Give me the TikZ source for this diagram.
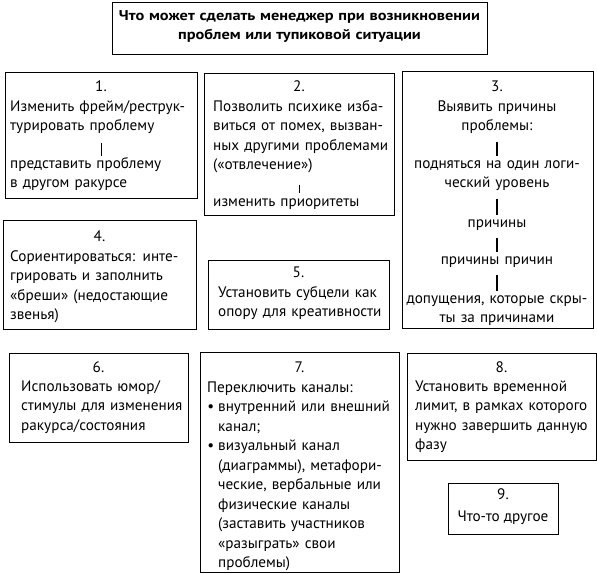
\documentclass[tikz,border=0pt]{standalone}
\usepackage{fontspec}
\setmainfont{PT Sans}
\newfontfamily\headfont[FakeStretch=1.15]{PT Sans}
\begin{document}
\begin{tikzpicture}[x=1pt, y=-1pt, font=\fontsize{15.2}{19.5}\selectfont,
                box/.style={draw, line width=0.9pt, inner sep=0, anchor=north west},
                num/.style={inner sep=0, anchor=base},
                txt/.style={inner sep=0, anchor=base west, align=left, text width=188pt,
                    execute at begin node=\strut, execute at end node=\strut},
                ctxt/.style={inner sep=0, anchor=base, align=center, text width=190pt,
                    execute at begin node=\strut, execute at end node=\strut},
                link/.style={line width=1.8pt, shorten <=5pt, shorten >=-2pt}]
                \useasboundingbox (0,0) rectangle (597,573);
                \node[box, minimum width=375pt, minimum height=52pt] (title) at (112,2) {};
                \node[inner sep=0, anchor=base, align=center, text width=370pt,
                    font=\headfont\fontsize{14.2}{19}\selectfont\bfseries] (head) at (299.5,20)
                    {Что может сделать менеджер при возникновении\\проблем или тупиковой ситуации};
                \node[box, minimum width=192pt, minimum height=126pt] (f1) at (5,72) {};
                \node[box, minimum width=190pt, minimum height=142pt] (f2) at (204,73) {};
                \node[box, minimum width=191pt, minimum height=257pt] (f3) at (402,71) {};
                \node[box, minimum width=193pt, minimum height=109pt] (f4) at (3,220) {};
                \node[box, minimum width=181pt, minimum height=69pt] (f5) at (208,260) {};
                \node[box, minimum width=179pt, minimum height=89pt] (f6) at (9,353) {};
                \node[box, minimum width=199pt, minimum height=220pt] (f7) at (200,352) {};
                \node[box, minimum width=189pt, minimum height=107pt] (f8) at (407,353) {};
                \node[box, minimum width=110pt, minimum height=51pt] (f9) at (448,483) {};
                \node[num] (k1) at (101,91) {1.};
                \node[txt] (n1a) at (10,111) {Изменить фрейм/реструк-\\турировать проблему};
                \node[txt] (n1b) at (10,168) {представить проблему\\в другом ракурсе};
                \draw[link, shorten <=6pt] (n1a.south -| f1.center) -- (n1b.north -| f1.center);
                \node[num] (k2) at (299,91) {2.};
                \node[txt] (n2a) at (213,111) {Позволить психике изба-\\виться от помех, вызван-\\ных другими проблемами\\(«отвлечение»)};
                \node[txt] (n2b) at (213,206) {изменить приоритеты};
                \draw[link, shorten <=9pt, shorten >=-1pt] (n2a.south -| f2.center) -- (n2b.north -| f2.center);
                \node[num] (k3) at (497,91) {3.};
                \node[ctxt] (n3a) at (497,111) {Выявить причины\\проблемы:};
                \node[ctxt] (n3b) at (497,168) {подняться на один логи-\\ческий уровень};
                \node[ctxt] (n3c) at (497,227) {причины};
                \node[ctxt] (n3d) at (497,264) {причины причин};
                \node[ctxt] (n3e) at (497,303) {допущения, которые скры-\\ты за причинами};
                \draw[link] (n3a) -- (n3b);
                \draw[link] (n3b) -- (n3c);
                \draw[link] (n3c) -- (n3d);
                \draw[link] (n3d) -- (n3e);
                \node[num] (k4) at (99.5,241) {4.};
                \node[txt] (n4) at (10,261) {Сориентироваться: инте-\\грировать и заполнить\\«бреши» (недостающие\\звенья)};
                \node[num] (k5) at (298.5,277) {5.};
                \node[txt] (n5) at (218,297) {Установить субцели как\\опору для креативности};
                \node[num] (k6) at (98.5,372) {6.};
                \node[txt] (n6) at (21,391) {Использовать юмор/\\стимулы для изменения\\ракурса/состояния};
                \node[num] (k7) at (299.5,372) {7.};
                \node[txt] (n7) at (207,392) {Переключить каналы:};
                \node[txt] (n7a) at (218,411.5) {\llap{•\hspace{4pt}}внутренний или внешний\\канал;};
                \node[txt] (n7b) at (218,450.5) {\llap{•\hspace{4pt}}визуальный канал\\(диаграммы), метафори-\\ческие, вербальные или\\физические каналы\\(заставить участников\\«разыграть» свои\\проблемы)};
                \node[num] (k8) at (501.5,372) {8.};
                \node[txt] (n8) at (415,391) {Установить временной\\лимит, в рамках которого\\нужно завершить данную\\фазу};
                \node[num] (k9) at (503,499) {9.};
                \node[num] (n9) at (503,521) {Что-то другое};
            \end{tikzpicture}
\end{document}
